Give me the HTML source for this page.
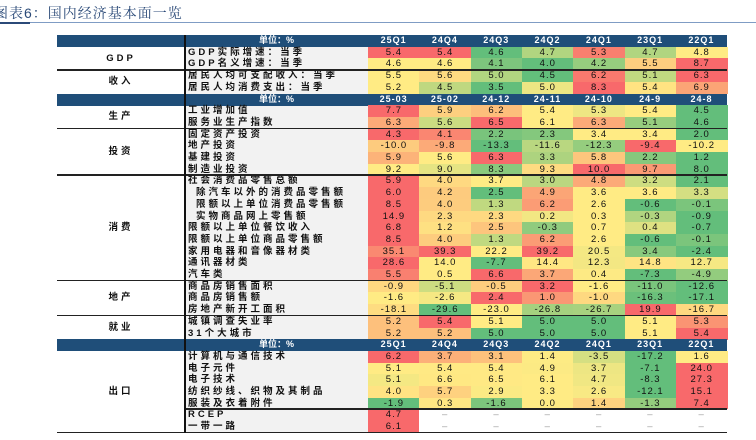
<!DOCTYPE html>
<html><head><meta charset="utf-8">
<style>
body{margin:0;width:756px;height:440px;background:#fff;position:relative;overflow:hidden;font-family:"Liberation Sans","Noto Sans CJK SC",sans-serif}
.abs{position:absolute;box-sizing:border-box}
.c{position:absolute;box-sizing:border-box;text-align:center;font-size:9.5px;color:#111;line-height:11.7px;letter-spacing:1px;white-space:nowrap}
.it{position:absolute;font-size:9.5px;font-weight:bold;color:#111;line-height:11.7px;white-space:nowrap;letter-spacing:3px}
.hd{position:absolute;background:#1f4e79;color:#fff;font-size:9px;font-weight:bold;text-align:center;line-height:11.7px}
</style></head><body>
<div class="abs" style="left:-6px;top:3px;font-size:14px;color:#2b4a78;font-family:'Liberation Sans','Noto Serif CJK SC',serif;letter-spacing:1px">图表6：国内经济基本面一览</div>
<div class="abs" style="left:0;top:22px;width:756px;height:1px;background:#7f9cc4"></div>
<div class="abs" style="left:0;top:22px;width:30px;height:2px;background:#2b4a78"></div>
<div id="tbl"></div>
<script>
const quarters=["25Q1","24Q4","24Q3","24Q2","24Q1","23Q1","22Q1"];
const months=["25-03","25-02","24-12","24-11","24-10","24-9","24-8"];
const groups=["GDP","收入","生产","投资","消费","地产","就业","出口"];
const itemLabels=[
["H",quarters],
["GDP","GDP实际增速：当季",[5.4,5.4,4.6,4.7,5.3,4.7,4.8]],
["GDP","GDP名义增速：当季",[4.6,4.6,4.1,4.0,4.2,5.5,8.7]],
["收入","居民人均可支配收入：当季",[5.5,5.6,5.0,4.5,6.2,5.1,6.3]],
["收入","居民人均消费支出：当季",[5.2,4.5,3.5,5.0,8.3,5.4,6.9]],
["H",months],
["生产","工业增加值",[7.7,5.9,6.2,5.4,5.3,5.4,4.5]],
["生产","服务业生产指数",[6.3,5.6,6.5,6.1,6.3,5.1,4.6]],
["投资","固定资产投资",[4.3,4.1,2.2,2.3,3.4,3.4,2.0]],
["投资","地产投资",[-10.0,-9.8,-13.3,-11.6,-12.3,-9.4,-10.2]],
["投资","基建投资",[5.9,5.6,6.3,3.3,5.8,2.2,1.2]],
["投资","制造业投资",[9.2,9.0,8.3,9.3,10.0,9.7,8.0]],
["消费","社会消费品零售总额",[5.9,4.0,3.7,3.0,4.8,3.2,2.1]],
["消费"," 除汽车以外的消费品零售额",[6.0,4.2,2.5,4.9,3.6,3.6,3.3]],
["消费"," 限额以上单位消费品零售额",[8.5,4.0,1.3,6.2,2.6,-0.6,-0.1]],
["消费"," 实物商品网上零售额",[14.9,2.3,2.3,0.2,0.3,-0.3,-0.9]],
["消费","限额以上单位餐饮收入",[6.8,1.2,2.5,-0.3,0.7,0.4,-0.7]],
["消费","限额以上单位商品零售额",[8.5,4.0,1.3,6.2,2.6,-0.6,-0.1]],
["消费","家用电器和音像器材类",[35.1,39.3,22.2,39.2,20.5,3.4,-2.4]],
["消费","通讯器材类",[28.6,14.0,-7.7,14.4,12.3,14.8,12.7]],
["消费","汽车类",[5.5,0.5,6.6,3.7,0.4,-7.3,-4.9]],
["地产","商品房销售面积",[-0.9,-5.1,-0.5,3.2,-1.6,-11.0,-12.6]],
["地产","商品房销售额",[-1.6,-2.6,2.4,1.0,-1.0,-16.3,-17.1]],
["地产","房地产新开工面积",[-18.1,-29.6,-23.0,-26.8,-26.7,19.9,-16.7]],
["就业","城镇调查失业率",[5.2,5.4,5.1,5.0,5.0,5.1,5.3]],
["就业","31个大城市",[5.2,5.2,5.0,5.0,5.0,5.1,5.4]],
["H",quarters],
["出口","计算机与通信技术",[6.2,3.7,3.1,1.4,-3.5,-17.2,1.6]],
["出口","电子元件",[5.1,5.4,5.4,4.9,3.7,-7.1,24.0]],
["出口","电子技术",[5.1,6.6,6.5,6.1,4.7,-8.3,27.3]],
["出口","纺织纱线、织物及其制品",[4.0,5.7,2.9,3.3,2.6,-12.1,15.1]],
["出口","服装及衣着附件",[-1.9,0.3,-1.6,0.0,1.4,-1.3,7.4]],
["出口","RCEP",[4.7,null,null,null,null,null,null]],
["出口","一带一路",[6.1,null,null,null,null,null,null]]
];
const T=document.getElementById('tbl');
const top0=35,rh=11.7,xL=57,xI=185,xV=368,cw=51.3,xEnd=xV+7*cw;
function mix(a,b,t){return 'rgb('+a.map((v,i)=>Math.round(v+(b[i]-v)*t)).join(',')+')';}
const G=[99,190,123],Y=[255,235,132],R=[248,105,107];
function colorOf(v,arr){const a=arr.filter(x=>x!==null).slice().sort((p,q)=>p-q);
 if(a.length<2)return 'rgb(248,105,107)';
 const mn=a[0],mx=a[a.length-1],n=a.length;const md=n%2?a[(n-1)/2]:(a[n/2-1]+a[n/2])/2;
 if(v<=md)return mix(G,Y,md===mn?1:(v-mn)/(md-mn));return mix(Y,R,mx===md?0:(v-md)/(mx-md));}
function el(cls,css,txt){const d=document.createElement('div');d.className=cls;d.style.cssText=css;if(txt!==undefined)d.textContent=txt;T.appendChild(d);return d;}
const bg=el('abs',`left:${xI}px;top:${top0}px;width:${xV-xI}px;height:${rh*itemLabels.length}px;background:#f2f2f2`);


itemLabels.forEach((r,i)=>{const y=top0+i*rh;
 if(r[0]==='H'){
  const h=el('hd',`left:${xL}px;top:${y}px;width:${xEnd-xL}px;height:${rh+0.5}px`);
  
  
  const u=el('hd',`left:${xI}px;top:${y}px;width:${xV-xI}px;height:${rh}px;background:transparent`,'单位：%');
  
  
  r[1].forEach((t,j)=>{const c=el('hd',`left:${xV+j*cw}px;top:${y}px;width:${cw}px;height:${rh}px;background:transparent;letter-spacing:1px`,t);
   
   });
  return;}
 const lab=el('it',`left:${xI+3+(r[1].startsWith(' ')?8:0)}px;top:${y}px`,r[1].trim());
 
 
 r[2].forEach((v,j)=>{const x=xV+j*cw;
  const c=el('c',`left:${x}px;top:${y}px;width:${cw+0.5}px;height:${rh+0.5}px;background:${v===null?'#fff':colorOf(v,r[2])};${v===null?'color:#999':''}`,v===null?'–':v.toFixed(1));
  
  });
});
groups.forEach(g=>{const idx=itemLabels.map((r,i)=>r[0]===g?i:-1).filter(i=>i>=0);
 const a=idx[0],b=idx[idx.length-1]+1;
 const gl=el('it',`left:${xL}px;width:${xI-xL}px;text-align:center;top:${top0+(a+b)/2*rh-rh/2}px;letter-spacing:3px`,g);
 
 
});
function hline(i,x0,nm){const l=el('abs',`left:${x0}px;top:${top0+i*rh-1}px;width:${xEnd-x0}px;height:1.5px;background:#222`);
 
 }
[3,8,12,21,24,34].forEach(i=>hline(i,xL,'group-separator'));
hline(32,xI,'subgroup-separator');
const v=el('abs',`left:${xI-1}px;top:${top0}px;width:1.5px;height:${rh*itemLabels.length}px;background:#111`);


</script>
</body></html>
